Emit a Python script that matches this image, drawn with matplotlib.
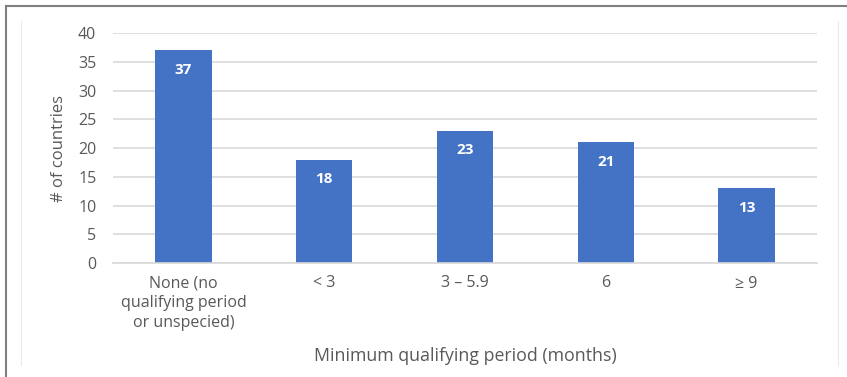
import matplotlib.pyplot as plt
from matplotlib.lines import Line2D

plt.rcParams['font.family'] = ['Open Sans', 'DejaVu Sans']

# countries by minimum qualifying period
categories = ["None (no\nqualifying period\nor unspecied)", "< 3", "3 \u2013 5.9", "6", "\u2265 9"]
counts = [37, 18, 23, 21, 13]
yticks = [0, 5, 10, 15, 20, 25, 30, 35, 40]

bar_color = "#4472C4"
text_color = "#595959"
grid_color = "#D9D9D9"

fig = plt.figure(figsize=(8.47, 3.77), dpi=100)
ax = fig.add_axes([0.1334, 0.3024, 0.8312, 0.610])

x = range(len(categories))
bars = ax.bar(x, counts, width=0.4, color=bar_color, zorder=2)

for b, v in zip(bars, counts):
    ax.annotate(str(v), (b.get_x() + b.get_width() / 2, v), xytext=(0, -14),
                textcoords="offset points", ha="center", va="center",
                color="white", fontsize=11, fontweight="bold")

ax.set_xlim(-0.5, len(categories) - 0.5)
ax.set_ylim(0, 40)
ax.set_yticks(yticks)
ax.set_xticks(list(x))
ax.set_xticklabels(categories, linespacing=1.3)
ax.tick_params(axis="both", length=0, colors=text_color, labelsize=11.5)
ax.tick_params(axis="x", pad=9)
ax.tick_params(axis="y", pad=12)
ax.yaxis.grid(True, color=grid_color, linewidth=1.2, zorder=0)
for s in ["top", "right", "left"]:
    ax.spines[s].set_visible(False)
ax.spines["bottom"].set_color(grid_color)
ax.spines["bottom"].set_linewidth(1.2)

ax.set_ylabel("# of countries", color=text_color, fontsize=12, labelpad=8)
ax.set_xlabel("Minimum qualifying period (months)", color=text_color, fontsize=12.8, labelpad=12)

# frame around the chart
W, H = 847, 377
fig.add_artist(Line2D([6 / W, 6 / W], [0, 1 - 6 / H], color="#808080", linewidth=1.5))
fig.add_artist(Line2D([6 / W, 1], [1 - 6 / H, 1 - 6 / H], color="#808080", linewidth=1.5))
fig.add_artist(Line2D([21 / W, 21 / W], [12 / H, 1 - 21 / H], color="#EBEBEB", linewidth=0.8))
fig.add_artist(Line2D([838 / W, 838 / W], [12 / H, 1 - 21 / H], color="#EBEBEB", linewidth=0.8))

fig.savefig("out.png", dpi=100)
